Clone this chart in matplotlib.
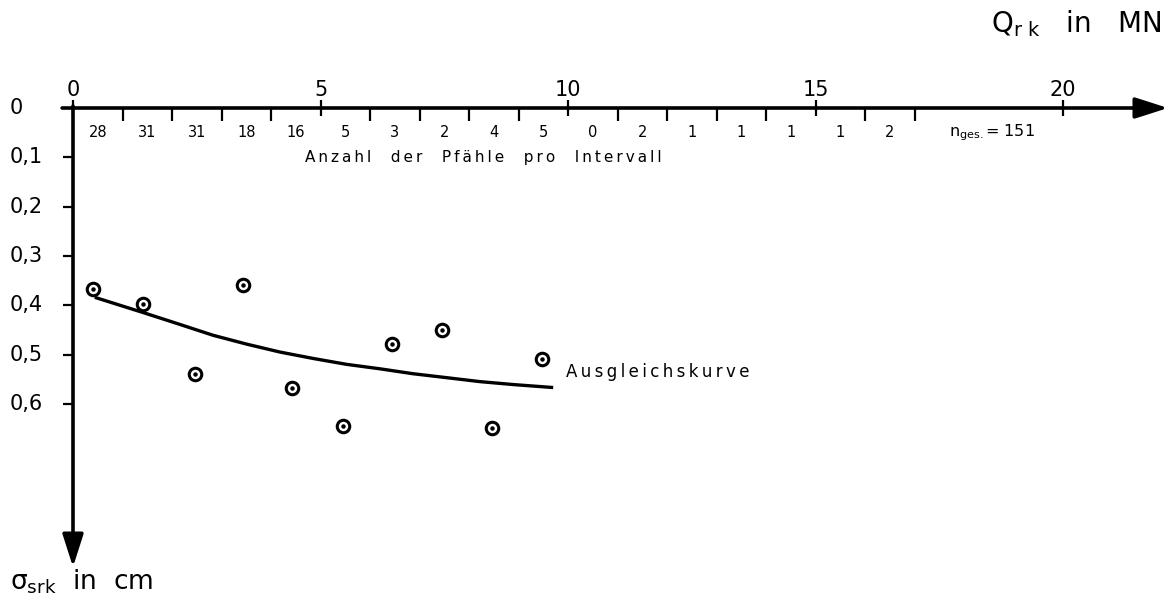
import matplotlib
matplotlib.use("Agg")
import matplotlib.pyplot as plt
from matplotlib.ticker import FixedLocator
from matplotlib.transforms import blended_transform_factory

# ---------------- data ----------------
q_major_ticks = [0, 5, 10, 15, 20]
q_major_labels = ["0", "5", "10", "15", "20"]
interval_edges = [0, 1, 2, 3, 4, 5, 6, 7, 8, 9, 10, 11, 12, 13, 14, 15, 16, 17]
interval_counts = [28, 31, 31, 18, 16, 5, 3, 2, 4, 5, 0, 2, 1, 1, 1, 1, 2]
n_total = 151

sigma_ticks = [0.0, 0.1, 0.2, 0.3, 0.4, 0.5, 0.6]
sigma_labels = ["0", "0,1", "0,2", "0,3", "0,4", "0,5", "0,6"]

q_points = [0.40, 1.41, 2.47, 3.43, 4.43, 5.45, 6.45, 7.46, 8.46, 9.48]
sigma_points = [0.367, 0.398, 0.540, 0.358, 0.568, 0.646, 0.478, 0.450, 0.649, 0.510]

q_fit = [0.44, 1.42, 2.16, 2.83, 3.51, 4.18, 4.85, 5.53, 6.20, 6.87, 7.55, 8.22,
         8.90, 9.70]
sigma_fit = [0.384, 0.415, 0.439, 0.461, 0.479, 0.495, 0.508, 0.520, 0.529, 0.539,
             0.547, 0.555, 0.561, 0.567]


def spaced(text, gap="\u2009", word_gap="    "):
    return word_gap.join(gap.join(list(w)) for w in text.split(" "))


# ---------------- figure ----------------
W, H = 1172, 607
fig = plt.figure(figsize=(W / 100, H / 100), dpi=100)
ax = fig.add_axes([73 / W, (H - 567) / H, 1095 / W, 459 / H])
ax.set_xlim(0, 22.12)
ax.set_ylim(0.931, 0)
for s in ax.spines.values():
    s.set_visible(False)
ax.patch.set_visible(False)

# axis arrows
arrow_kw = dict(arrowstyle="-|>,head_length=1.0,head_width=0.32", lw=2.6,
                color="black", shrinkA=0, shrinkB=0, mutation_scale=20)
ax.annotate("", xy=(22.12, 0), xytext=(-0.22, 0), xycoords="data",
            arrowprops=arrow_kw, annotation_clip=False)
ax.annotate("", xy=(0, 0.931), xytext=(0, -0.004), xycoords="data",
            arrowprops=arrow_kw, annotation_clip=False)

# x ticks (top)
ax.xaxis.set_ticks_position("top")
ax.set_xticks(q_major_ticks)
ax.set_xticklabels(q_major_labels)
minor = [e for e in interval_edges if e not in q_major_ticks]
ax.xaxis.set_minor_locator(FixedLocator(minor))
ax.tick_params(axis="x", which="major", direction="inout", length=11, width=1.6,
               labelsize=15, pad=0)
ax.tick_params(axis="x", which="minor", direction="in", length=9.5, width=1.6)

# y ticks (left)
ax.set_yticks(sigma_ticks[1:])
ax.set_yticklabels([])
ax.tick_params(axis="y", which="major", direction="out", length=7, width=1.6)
trans = blended_transform_factory(fig.transFigure, ax.transData)
for v, lab in zip(sigma_ticks, sigma_labels):
    ax.text(10 / W, v, lab, transform=trans, ha="left", va="center", fontsize=15)

# interval counts
for i, c in enumerate(interval_counts):
    mid = (interval_edges[i] + interval_edges[i + 1]) / 2 if i + 1 < len(interval_edges) else interval_edges[i] + 0.5
    ax.text(mid, 0.05, str(c), ha="center", va="center", fontsize=10.5)
ax.text(17.7, 0.05, r"$\mathregular{n_{ges.}}$= " + str(n_total), ha="left",
        va="center", fontsize=11.5)
ax.text(8.29, 0.1, spaced("Anzahl der Pfähle pro Intervall"), ha="center",
        va="center", fontsize=11)

# data
ax.plot(q_fit, sigma_fit, color="black", lw=2.4, solid_capstyle="butt",
        solid_joinstyle="round")
ax.plot(q_points, sigma_points, linestyle="none", marker="o", markersize=9,
        markerfacecolor="white", markeredgecolor="black", markeredgewidth=2.2,
        clip_on=False)
ax.plot(q_points, sigma_points, linestyle="none", marker="o", markersize=2.2,
        color="black", clip_on=False)
ax.text(9.95, 0.536, spaced("Ausgleichskurve"), ha="left", va="center", fontsize=12)

# axis titles
fig.text(1162 / W, 1 - 24 / H, r"$\mathregular{Q_{r\ k}}$   in   MN", ha="right",
         va="center", fontsize=20)
fig.text(10 / W, 1 - 582 / H, r"$\mathregular{\sigma_{srk}}$  in  cm", ha="left",
         va="center", fontsize=19)

fig.savefig("out.png", dpi=100)
